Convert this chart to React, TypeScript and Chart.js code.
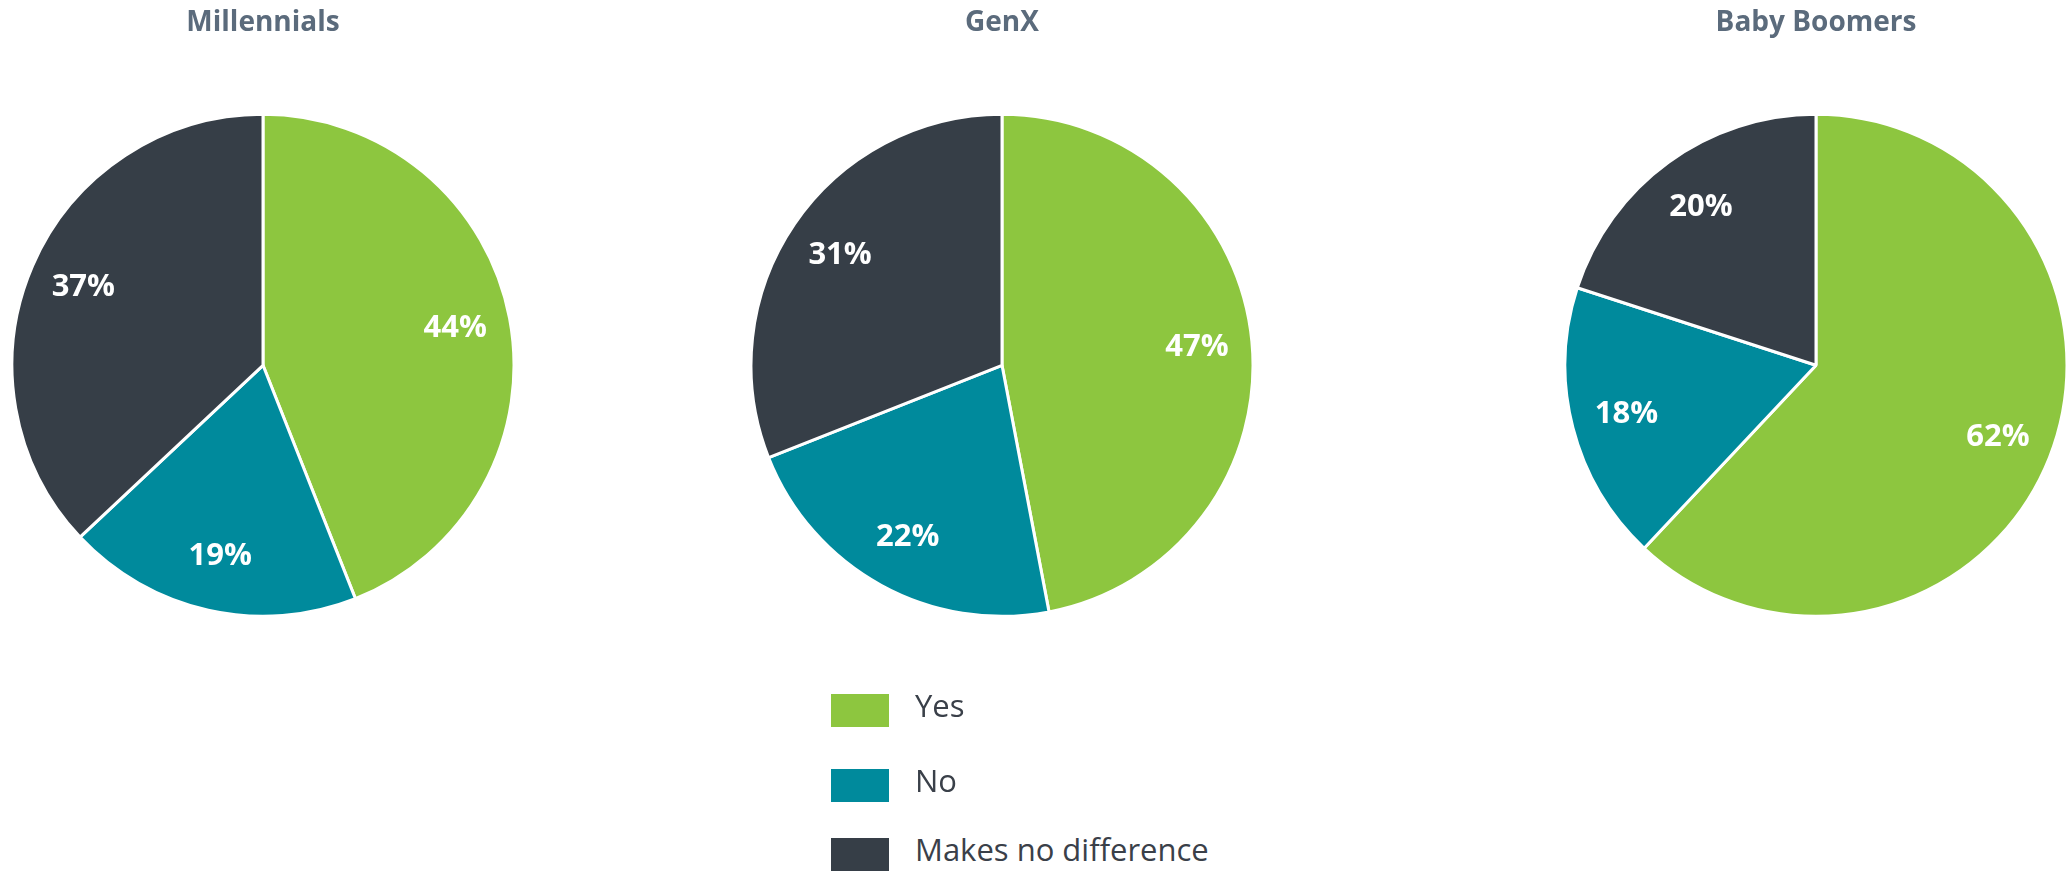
import React, { useEffect, useRef } from "react";
import { Chart, registerables } from "chart.js";

Chart.register(...registerables);

// ---- data ----
const categories = ["Yes", "No", "Makes no difference"];
const groupTitles = ["Millennials", "GenX", "Baby Boomers"];
const millennialsValues = [44, 19, 37];
const genXValues = [47, 22, 31];
const babyBoomersValues = [62, 18, 20];

// ---- style ----
const sliceColors = ["#8DC63F", "#008A9C", "#363E47"];
const titleColor = "#5B6B7C";
const legendTextColor = "#3A4049";
const FONT = "'Open Sans', 'Noto Sans', sans-serif";

const sliceLabelPlugin = {
  id: "sliceLabels",
  afterDatasetsDraw(chart: any) {
    const ctx = chart.ctx;
    const meta = chart.getDatasetMeta(0);
    const data = chart.data.datasets[0].data as number[];
    ctx.save();
    ctx.fillStyle = "#FFFFFF";
    ctx.font = `bold 31px ${FONT}`;
    ctx.textAlign = "center";
    ctx.textBaseline = "middle";
    meta.data.forEach((arc: any, i: number) => {
      const p = arc.getProps(["x", "y", "startAngle", "endAngle", "outerRadius"], true);
      const mid = (p.startAngle + p.endAngle) / 2;
      const r = p.outerRadius * 0.78;
      ctx.fillText(`${data[i]}%`, p.x + Math.cos(mid) * r, p.y + Math.sin(mid) * r);
    });
    ctx.restore();
  },
};

function PieChart({ title, values, left }: { title: string; values: number[]; left: number }) {
  const ref = useRef<HTMLCanvasElement | null>(null);
  useEffect(() => {
    if (!ref.current) return;
    const chart = new Chart(ref.current, {
      type: "pie",
      data: {
        labels: categories,
        datasets: [
          {
            data: values,
            backgroundColor: sliceColors,
            borderColor: "#FFFFFF",
            borderWidth: 3,
            radius: 251,
          } as any,
        ],
      },
      options: {
        responsive: false,
        animation: false,
        layout: { padding: 0 },
        plugins: {
          legend: { display: false },
          tooltip: { enabled: false },
          title: {
            display: true,
            text: title,
            color: titleColor,
            font: { family: FONT, size: 28, weight: "bold" },
            padding: { top: 6, bottom: 0 },
          },
        },
      },
      plugins: [sliceLabelPlugin],
    });
    return () => chart.destroy();
  }, [title, values]);
  return (
    <canvas
      ref={ref}
      width={500}
      height={691}
      style={{ position: "absolute", left, top: 0, width: 500, height: 691 }}
    />
  );
}

const legendRowTops = [694, 769, 838];

export default function App() {
  return (
    <div
      style={{
        position: "absolute",
        left: 0,
        top: 0,
        width: 2067,
        height: 871,
        overflow: "hidden",
        background: "#FFFFFF",
      }}
    >
      <PieChart title={groupTitles[0]} values={millennialsValues} left={13} />
      <PieChart title={groupTitles[1]} values={genXValues} left={752} />
      <PieChart title={groupTitles[2]} values={babyBoomersValues} left={1566} />
      {categories.map((c, i) => (
        <div
          key={c}
          style={{
            position: "absolute",
            left: 831,
            top: legendRowTops[i],
            height: 33,
            display: "flex",
            alignItems: "center",
            whiteSpace: "nowrap",
          }}
        >
          <div style={{ width: 58, height: 33, background: sliceColors[i] }} />
          <span
            style={{
              marginLeft: 26,
              fontFamily: FONT,
              fontSize: 31,
              color: legendTextColor,
              lineHeight: "33px",
              position: "relative",
              top: -5,
            }}
          >
            {c}
          </span>
        </div>
      ))}
    </div>
  );
}
